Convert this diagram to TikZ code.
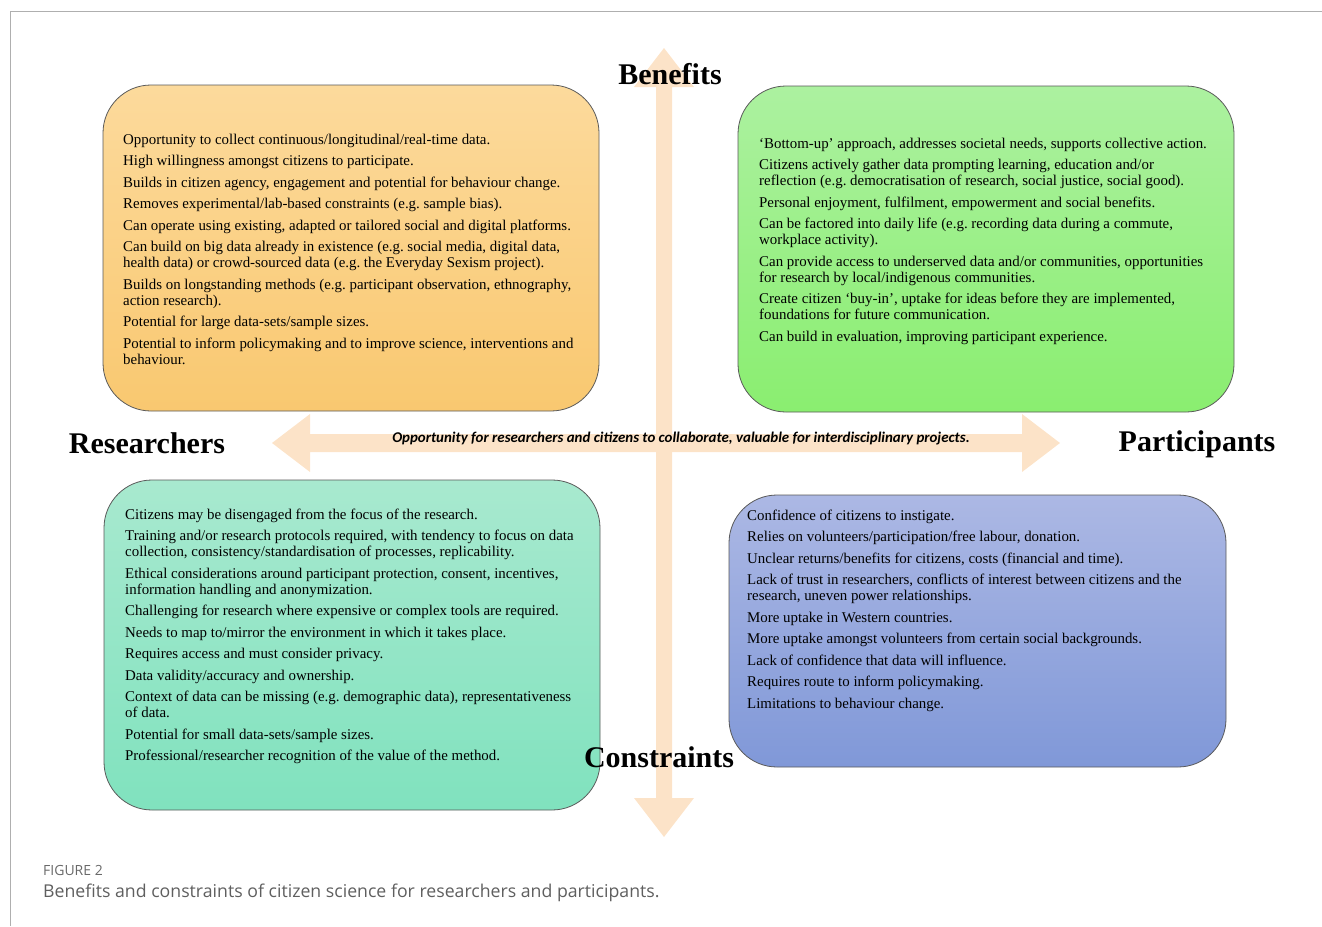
\documentclass[tikz,border=0pt]{standalone}
\usepackage{fontspec}
\setmainfont{Liberation Serif}
\newfontfamily\capfont{Open Sans}
\newfontfamily\midfont{Carlito}
\definecolor{arrowfill}{RGB}{252,227,200}
\definecolor{orangeT}{RGB}{252,218,156}
\definecolor{orangeB}{RGB}{249,200,112}
\definecolor{greenT}{RGB}{172,241,160}
\definecolor{greenB}{RGB}{138,238,112}
\definecolor{tealT}{RGB}{168,233,207}
\definecolor{tealB}{RGB}{128,226,190}
\definecolor{blueT}{RGB}{172,184,228}
\definecolor{blueB}{RGB}{128,152,216}
\definecolor{framegray}{RGB}{175,175,175}
\definecolor{capgray}{RGB}{105,105,105}
\tikzset{
  box/.style={draw=black!65, line width=0.8pt, rounded corners=48pt, inner sep=0pt},
  itemtext/.style={anchor=north west, inner sep=0pt, align=left, font=\fontsize{14.9}{16}\selectfont},
  biglabel/.style={inner sep=0pt, anchor=base, font=\bfseries\fontsize{30}{34}\selectfont},
}
\begin{document}
\frenchspacing
\begin{tikzpicture}[x=1pt,y=-1pt]
\useasboundingbox (0,0) rectangle (1322,926);
% frame
\draw[framegray, line width=1pt] (10,926) -- (10,11) -- (1322,11);
% arrows
\fill[arrowfill] (656,87) -- (634,87) -- (664,48) -- (694,87) -- (672,87) -- (672,798) -- (694,798) -- (664,837) -- (634,798) -- (656,798) -- cycle;
\fill[arrowfill] (310,434) -- (310,414) -- (272,443) -- (310,472) -- (310,452) -- (1022,452) -- (1022,472) -- (1060,443) -- (1022,414) -- (1022,434) -- cycle;
% boxes
\node[box, top color=orangeT, bottom color=orangeB, minimum width=496pt, minimum height=326pt] (rb) at (351,248) {};
\node[box, top color=greenT, bottom color=greenB, minimum width=496pt, minimum height=326pt] (pb) at (986,249) {};
\node[box, top color=tealT, bottom color=tealB, minimum width=496pt, minimum height=330pt] (rc) at (352,645) {};
\node[box, top color=blueT, bottom color=blueB, minimum width=497pt, minimum height=272pt] (pc) at (977.5,631) {};
% texts
\node[itemtext] (rbt) at (123,133.5) {Opportunity to collect continuous/longitudinal/real-time data.\\[5.5pt]
High willingness amongst citizens to participate.\\[5.5pt]
Builds in citizen agency, engagement and potential for behaviour change.\\[5.5pt]
Removes experimental/lab-based constraints (e.g. sample bias).\\[5.5pt]
Can operate using existing, adapted or tailored social and digital platforms.\\[5.5pt]
Can build on big data already in existence (e.g. social media, digital data,\\
health data) or crowd-sourced data (e.g. the Everyday Sexism project).\\[5.5pt]
Builds on longstanding methods (e.g. participant observation, ethnography,\\
action research).\\[5.5pt]
Potential for large data-sets/sample sizes.\\[5.5pt]
Potential to inform policymaking and to improve science, interventions and\\
behaviour.};
\node[itemtext] (pbt) at (759,137.5) {‘Bottom-up’ approach, addresses societal needs, supports collective action.\\[5.5pt]
Citizens actively gather data prompting learning, education and/or\\
reflection (e.g. democratisation of research, social justice, social good).\\[5.5pt]
Personal enjoyment, fulfilment, empowerment and social benefits.\\[5.5pt]
Can be factored into daily life (e.g. recording data during a commute,\\
workplace activity).\\[5.5pt]
Can provide access to underserved data and/or communities, opportunities\\
for research by local/indigenous communities.\\[5.5pt]
Create citizen ‘buy-in’, uptake for ideas before they are implemented,\\
foundations for future communication.\\[5.5pt]
Can build in evaluation, improving participant experience.};
\node[itemtext] (rct) at (125,508.5) {Citizens may be disengaged from the focus of the research.\\[5.5pt]
Training and/or research protocols required, with tendency to focus on data\\
collection, consistency/standardisation of processes, replicability.\\[5.5pt]
Ethical considerations around participant protection, consent, incentives,\\
information handling and anonymization.\\[5.5pt]
Challenging for research where expensive or complex tools are required.\\[5.5pt]
Needs to map to/mirror the environment in which it takes place.\\[5.5pt]
Requires access and must consider privacy.\\[5.5pt]
Data validity/accuracy and ownership.\\[5.5pt]
Context of data can be missing (e.g. demographic data), representativeness\\
of data.\\[5.5pt]
Potential for small data-sets/sample sizes.\\[5.5pt]
Professional/researcher recognition of the value of the method.};
\node[itemtext] (pct) at (747,509.5) {Confidence of citizens to instigate.\\[5.5pt]
Relies on volunteers/participation/free labour, donation.\\[5.5pt]
Unclear returns/benefits for citizens, costs (financial and time).\\[5.5pt]
Lack of trust in researchers, conflicts of interest between citizens and the\\
research, uneven power relationships.\\[5.5pt]
More uptake in Western countries.\\[5.5pt]
More uptake amongst volunteers from certain social backgrounds.\\[5.5pt]
Lack of confidence that data will influence.\\[5.5pt]
Requires route to inform policymaking.\\[5.5pt]
Limitations to behaviour change.};
% labels
\node[biglabel] (ben) at (670,84) {Benefits};
\node[biglabel] (con) at (659,767) {Constraints};
\node[biglabel] (res) at (147,453) {Researchers};
\node[biglabel] (par) at (1197,451) {Participants};
\node[inner sep=0pt, font=\midfont\bfseries\itshape\fontsize{14.9}{16}\selectfont] (mid) at (681,439) {Opportunity for researchers and citizens to collaborate, valuable for interdisciplinary projects.};
% caption
\node[anchor=west, inner sep=0pt, text=capgray, font=\capfont\fontsize{14}{16}\selectfont] (fig) at (43,870) {FIGURE 2};
\node[anchor=west, inner sep=0pt, text=capgray!90!black, font=\capfont\fontsize{17.7}{20}\selectfont] (cap) at (43,893) {Benefits and constraints of citizen science for researchers and participants.};
\end{tikzpicture}
\end{document}
